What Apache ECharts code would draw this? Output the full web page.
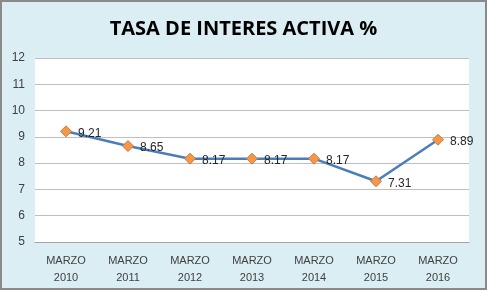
<!DOCTYPE html>
<html>
<head>
<meta charset="utf-8">
<script src="https://cdn.jsdelivr.net/npm/echarts@6/dist/echarts.min.js"></script>
<style>
  html, body { margin: 0; padding: 0; }
  #chart {
    width: 487px; height: 290px; box-sizing: border-box;
    border: 2px solid #8a8a8a; background: #dbeef4;
  }
</style>
</head>
<body>
<div id="chart"></div>
<script>
const categories = ['MARZO\n2010', 'MARZO\n2011', 'MARZO\n2012', 'MARZO\n2013', 'MARZO\n2014', 'MARZO\n2015', 'MARZO\n2016'];
const tasa = [9.21, 8.65, 8.17, 8.17, 8.17, 7.31, 8.89];

const chart = echarts.init(document.getElementById('chart'));
chart.setOption({
  animation: false,
  title: {
    text: 'TASA DE INTERES ACTIVA %',
    left: 'center',
    top: 12,
    textStyle: { fontFamily: 'Open Sans', fontWeight: 'bold', fontSize: 20, color: '#000' }
  },
  grid: {
    left: 33, right: 16, top: 56, bottom: 46,
    show: true, backgroundColor: '#fff', borderWidth: 0
  },
  xAxis: {
    type: 'category',
    data: categories,
    boundaryGap: true,
    axisLine: { lineStyle: { color: '#a6a6a6' } },
    axisTick: { lineStyle: { color: '#a6a6a6' }, length: 4 },
    axisLabel: { color: '#404040', fontFamily: 'Liberation Sans', fontSize: 11, lineHeight: 17, margin: 10 }
  },
  yAxis: {
    type: 'value',
    min: 5, max: 12, interval: 1,
    axisLine: { show: false },
    axisTick: { show: false },
    splitLine: { lineStyle: { color: '#bfbfbf' } },
    axisLabel: { color: '#404040', fontFamily: 'Liberation Sans', fontSize: 12, margin: 10 }
  },
  series: [{
    type: 'line',
    data: tasa,
    symbol: 'diamond',
    symbolSize: 11,
    lineStyle: { color: '#4a7ebb', width: 2.5 },
    itemStyle: { color: '#f79646', borderColor: '#c0804a', borderWidth: 1 },
    label: {
      show: true, position: 'right', distance: 6, offset: [0, 2],
      color: '#262626', fontFamily: 'Liberation Sans', fontSize: 12
    }
  }]
});
</script>
</body>
</html>
